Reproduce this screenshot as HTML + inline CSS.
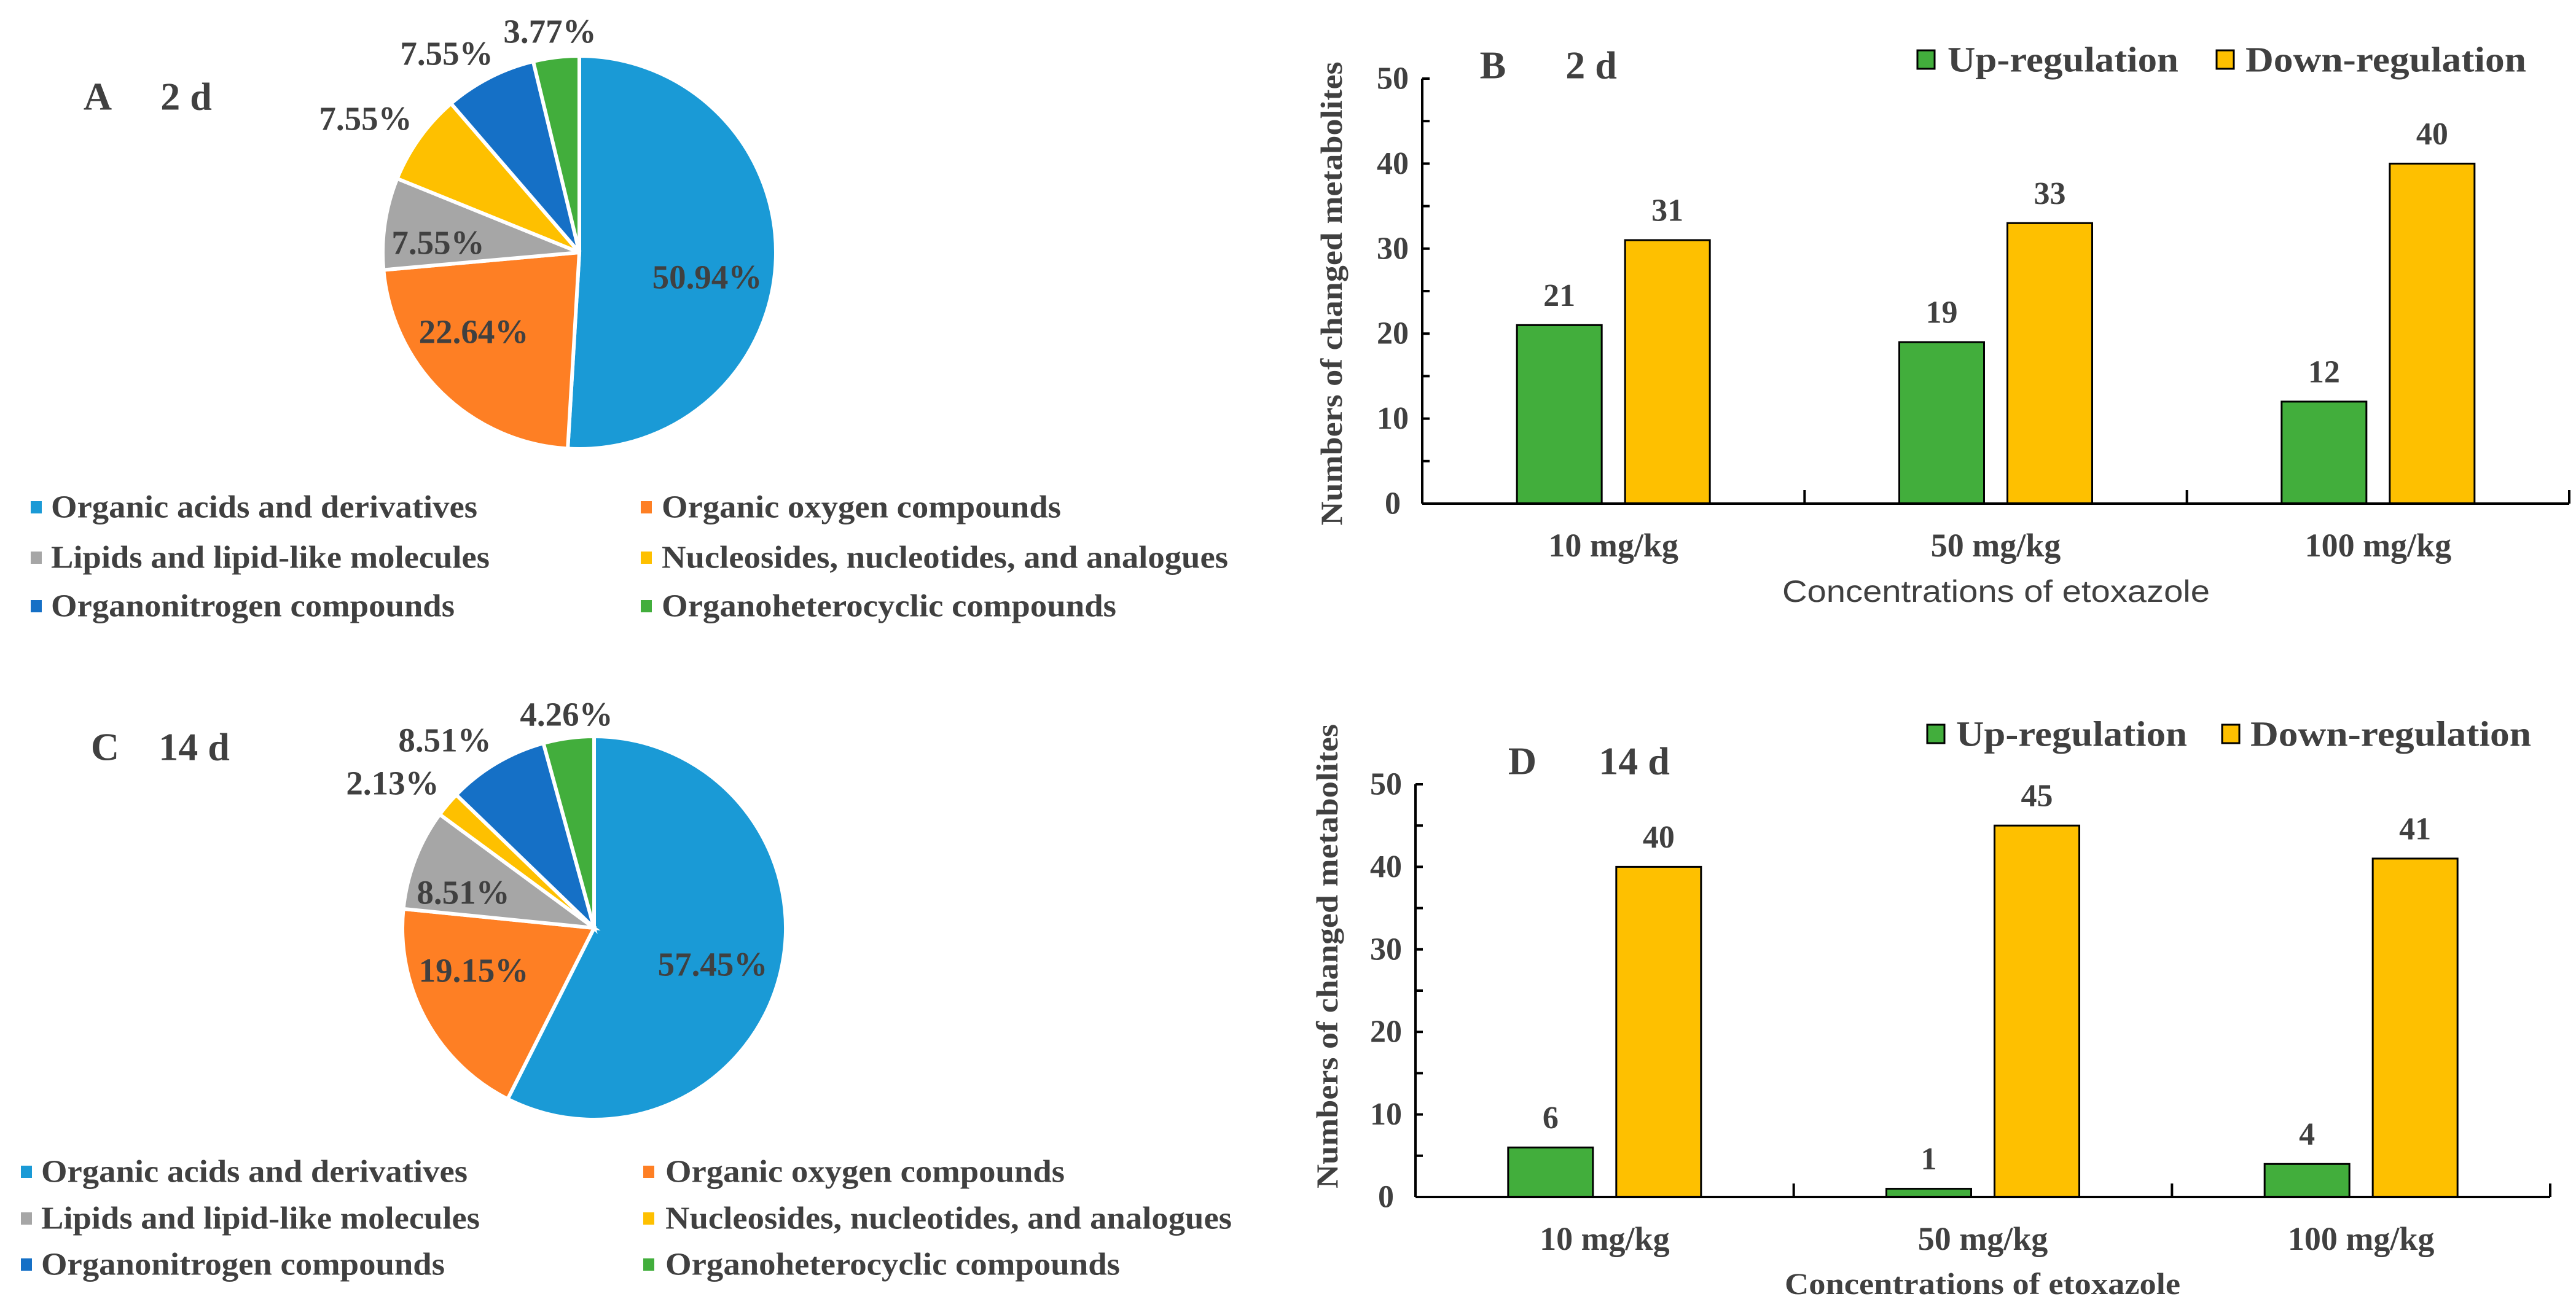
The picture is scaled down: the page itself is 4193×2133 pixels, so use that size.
<!DOCTYPE html>
<html><head><meta charset="utf-8"><style>
html,body{margin:0;padding:0;background:#fff}
svg{display:block}
text{font-family:"Liberation Serif",serif;font-weight:bold;fill:#404040}
</style></head><body>
<svg id="s" width="4193" height="2133" viewBox="0 0 4193 2133" xmlns="http://www.w3.org/2000/svg"></svg>
<script>
const pieLabels = ["Organic acids and derivatives","Organic oxygen compounds","Lipids and lipid-like molecules","Nucleosides, nucleotides, and analogues","Organonitrogen compounds","Organoheterocyclic compounds"];
const pieColors = ["#1a9ad6","#fe7f24","#a6a6a6","#fec000","#1570c6","#42ae3c"];
const pieA = [50.94,22.64,7.55,7.55,7.55,3.77];
const pieC = [57.45,19.15,8.51,2.13,8.51,4.26];
const barCats = ["10 mg/kg","50 mg/kg","100 mg/kg"];
const upB = [21,19,12];
const downB = [31,33,40];
const upD = [6,1,4];
const downD = [40,45,41];
const yTicks = [0,10,20,30,40,50];
const legendWidths = [694,650,714,922,657,740];

const S = document.getElementById('s');
const NS = 'http://www.w3.org/2000/svg';
function el(tag, attrs, parent){
  const e = document.createElementNS(NS, tag);
  for (const k in attrs) e.setAttribute(k, attrs[k]);
  (parent||S).appendChild(e);
  return e;
}
function txt(str, x, y, size, attrs, parent){
  const t = el('text', Object.assign({x:x, y:y, 'font-size':size, 'dominant-baseline':'central'}, attrs||{}), parent);
  t.textContent = str;
  return t;
}

function drawPie(vals, cx, cy, r, labelPos, title, titleX, titleY, legend, name){
  const g = el('g', {});
  
  
  const total = vals.reduce((a,b)=>a+b,0);
  let a0 = 0;
  vals.forEach((v,i)=>{
    const a1 = a0 + v/total*2*Math.PI;
    const x0 = cx + r*Math.sin(a0), y0 = cy - r*Math.cos(a0);
    const x1 = cx + r*Math.sin(a1), y1 = cy - r*Math.cos(a1);
    const large = (a1-a0) > Math.PI ? 1 : 0;
    const p = el('path', {d:`M${cx},${cy} L${x0},${y0} A${r},${r} 0 ${large} 1 ${x1},${y1} Z`, fill:pieColors[i], stroke:'#fff', 'stroke-width':6}, g);
    
    
    a0 = a1;
  });
  vals.forEach((v,i)=>{
    const t = txt(v.toFixed(2)+'%', labelPos[i][0], labelPos[i][1], 55, {'text-anchor':'middle', fill:'#3a3a3a'}, g);
    
    
  });
  const tl = el('g', {}, g);
  
  
  txt(title[0], titleX[0], titleY, 64, {'text-anchor':'middle', fill:'#595959'}, tl);
  txt(title[1], titleX[1], titleY, 64, {'text-anchor':'middle', fill:'#595959'}, tl);
  pieLabels.forEach((lab,i)=>{
    const col = i%2, row = Math.floor(i/2);
    const lg = el('g', {}, g);
    
    
    const sx = legend.sx[col], ty = legend.rows[row];
    el('rect', {x:sx, y:ty-10, width:18, height:20, fill:pieColors[i]}, lg);
    txt(lab, legend.tx[col], ty, 52, {fill:'#404040', textLength:legendWidths[i], lengthAdjust:'spacingAndGlyphs'}, lg);
  });
}

drawPie(pieA, 943, 411, 320,
  [[1151,451],[771,540],[713,395],[595,193],[727,87],[895,51]],
  ['A','2 d'], [159,303], 157,
  {sx:[50,1043], tx:[83,1077], rows:[826,908,987]}, 'pie-chart-a');
drawPie(pieC, 967, 1511, 312,
  [[1160,1570],[771,1580],[754,1453],[639,1275],[724,1205],[922,1163]],
  ['C','14 d'], [171,316], 1216,
  {sx:[34,1047], tx:[67,1083], rows:[1908,1984,2059]}, 'pie-chart-c');

function drawBar(cfg, up, down, name){
  const g = el('g', {});
  
  
  const yS = v => cfg.y0 - v/50*(cfg.y0-cfg.y50);
  const catW = (cfg.x1-cfg.x0)/barCats.length;
  const xC = i => cfg.x0 + catW*(i+0.5);
  barCats.forEach((c,i)=>{
    [[up,'#42ae3c',-157,'bar-up-'],[down,'#fec000',19,'bar-down-']].forEach(([arr,col,off,nm])=>{
      const v = arr[i], top = yS(v);
      const r = el('rect', {x:xC(i)+off, y:top, width:138, height:cfg.y0-top, fill:col, stroke:'#000', 'stroke-width':3}, g);
      
      
      const t = txt(String(v), xC(i)+off+69, top-48, 52, {'text-anchor':'middle', fill:'#404040'}, g);
      
      
    });
    const cl = txt(c, xC(i), cfg.catY, 54, {'text-anchor':'middle', fill:'#000'}, g);
    
    
  });
  const ax = el('g', {stroke:'#000', 'stroke-width':4}, g);
  
  
  el('line', {x1:cfg.x0, y1:cfg.y0, x2:cfg.x1, y2:cfg.y0}, ax);
  el('line', {x1:cfg.x0, y1:cfg.y0, x2:cfg.x0, y2:cfg.y50}, ax);
  for (let v=0; v<=50; v+=5) el('line', {x1:cfg.x0, y1:yS(v), x2:cfg.x0+12, y2:yS(v)}, ax);
  for (let i=1;i<=barCats.length;i++){ const x = cfg.x0+catW*i; el('line', {x1:x, y1:cfg.y0, x2:x, y2:cfg.y0-22}, ax); }
  yTicks.forEach(v=>{
    const t = txt(String(v), cfg.x0-48, yS(v), 52, {'text-anchor':'middle', fill:'#000'}, g);
    
    
  });
  const yt = txt('Numbers of changed metabolites', 0, 0, 50, {'text-anchor':'middle', fill:'#000', textLength:cfg.ytLen, lengthAdjust:'spacingAndGlyphs', transform:`translate(${cfg.ytX},${cfg.ytY}) rotate(-90)`}, g);
  
  
  const xt = txt('Concentrations of etoxazole', cfg.xtX, cfg.xtY, 50, Object.assign({'text-anchor':'middle', fill:'#000', textLength:cfg.xtLen, lengthAdjust:'spacingAndGlyphs'}, cfg.xtSans ? {style:'font-family:"Liberation Sans",sans-serif;font-weight:normal'} : {}), g);
  
  
  const tl = el('g', {}, g);
  
  
  txt(cfg.title[0], cfg.titleX[0], cfg.titleY, 64, {'text-anchor':'middle', fill:'#595959'}, tl);
  txt(cfg.title[1], cfg.titleX[1], cfg.titleY, 64, {'text-anchor':'middle', fill:'#595959'}, tl);
  const l1 = el('g', {}, g);
  
  
  el('rect', {x:cfg.leg[0], y:cfg.legY-15, width:28, height:30, fill:'#42ae3c', stroke:'#000', 'stroke-width':3}, l1);
  txt('Up-regulation', cfg.leg[1], cfg.legY, 58, {fill:'#000', textLength:376, lengthAdjust:'spacingAndGlyphs'}, l1);
  const l2 = el('g', {}, g);
  
  
  el('rect', {x:cfg.leg[2], y:cfg.legY-15, width:28, height:30, fill:'#fec000', stroke:'#000', 'stroke-width':3}, l2);
  txt('Down-regulation', cfg.leg[3], cfg.legY, 58, {fill:'#000', textLength:457, lengthAdjust:'spacingAndGlyphs'}, l2);
}

drawBar({x0:2315, x1:4182, y0:820, y50:128, catY:888, ytX:2167, ytY:478, ytLen:755,
  xtX:3249, xtY:963, xtLen:696, xtSans:true, title:['B','2 d'], titleX:[2430,2590], titleY:106,
  leg:[3121,3170,3608,3655], legY:97}, upB, downB, 'bar-chart-b');
drawBar({x0:2304, x1:4151, y0:1949, y50:1277, catY:2017, ytX:2160, ytY:1557, ytLen:756,
  xtX:3227, xtY:2090, xtLen:644, xtSans:false, title:['D','14 d'], titleX:[2478,2660], titleY:1239,
  leg:[3137,3184,3617,3663], legY:1195}, upD, downD, 'bar-chart-d');
</script>
</body></html>
